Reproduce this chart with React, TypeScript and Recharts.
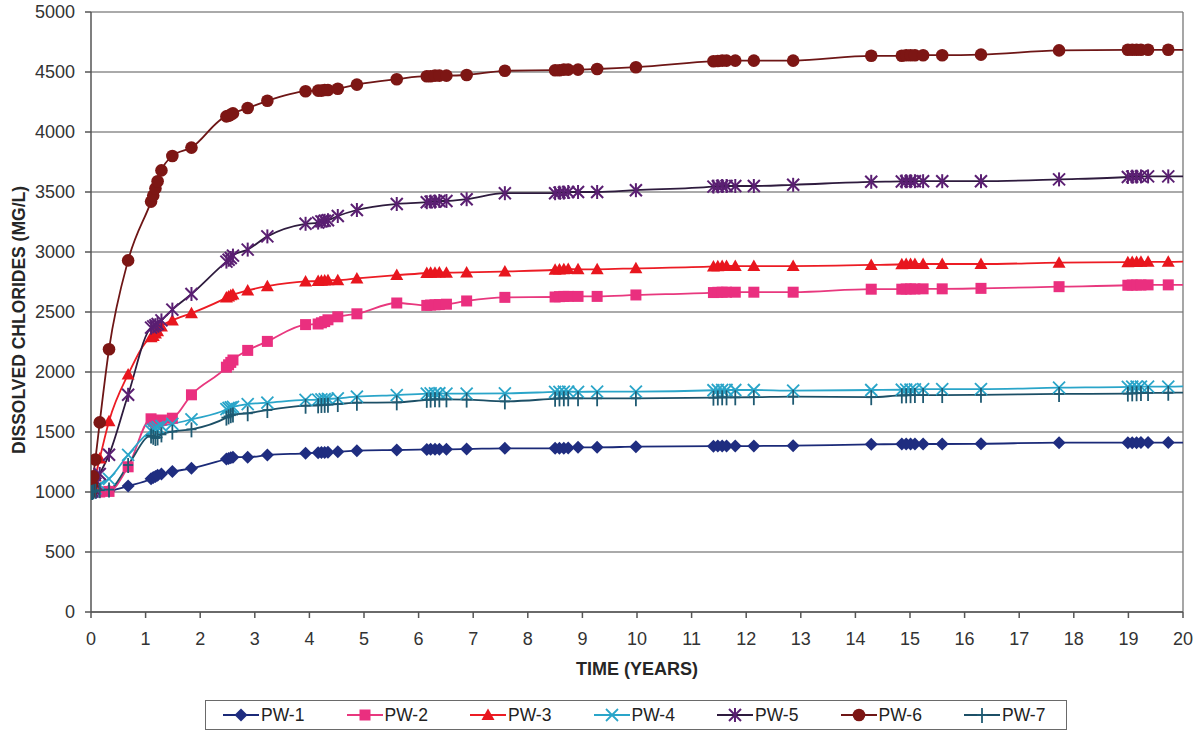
import React from "react";
import { LineChart, Line, XAxis, YAxis, CartesianGrid, ReferenceLine } from "recharts";

// Sampling times (years), grouped by survey rounds
const TIMES = [
  0, 0.02, 0.04, 0.08, 0.16, 0.33, 0.68,
  1.1, 1.14, 1.18, 1.22, 1.29, 1.49, 1.84,
  2.48, 2.52, 2.56, 2.6, 2.87, 3.23, 3.93,
  4.16, 4.22, 4.28, 4.34, 4.52, 4.87, 5.6,
  6.15, 6.22, 6.3, 6.38, 6.51, 6.88, 7.58,
  8.5, 8.58, 8.66, 8.74, 8.92, 9.27, 9.98,
  11.4, 11.48, 11.56, 11.64, 11.8, 12.14, 12.86,
  14.29, 14.85, 14.93, 15.01, 15.09, 15.24, 15.59,
  16.3, 17.73, 18.99, 19.07, 19.15, 19.23, 19.36,
  19.73, 20,
];

const PW1 = [
  1000, 1000, 1000, 1000, 1005, 1010, 1050,
  1110, 1120, 1130, 1140, 1150, 1170, 1197,
  1275, 1280, 1285, 1290, 1290, 1308, 1322,
  1328, 1330, 1330, 1332, 1336, 1344, 1350,
  1355, 1356, 1356, 1357, 1356, 1358, 1364,
  1364, 1365, 1365, 1366, 1372, 1372, 1378,
  1382, 1383, 1383, 1384, 1383, 1383, 1386,
  1397, 1399, 1400, 1400, 1400, 1400, 1400,
  1402, 1411, 1411, 1411, 1411, 1412, 1412,
  1412, 1412,
];

const PW2 = [
  1000, 1000, 1000, 1000, 1000, 1005, 1210,
  1610, 1590, 1575, 1580, 1600, 1615, 1810,
  2040, 2060, 2080, 2100, 2180, 2255, 2395,
  2400, 2410, 2420, 2435, 2460, 2485, 2575,
  2555, 2558, 2560, 2562, 2565, 2592, 2622,
  2625, 2628, 2630, 2630, 2630, 2630, 2642,
  2662, 2664, 2665, 2665, 2665, 2665, 2665,
  2690, 2690, 2692, 2692, 2692, 2693, 2693,
  2697, 2711, 2723, 2725, 2725, 2725, 2726,
  2726, 2726,
];

const PW3 = [
  1000, 1020, 1060, 1130, 1280, 1590, 1980,
  2290, 2300, 2320, 2340, 2380, 2430, 2490,
  2620, 2630, 2640, 2645, 2680, 2715, 2755,
  2758, 2760, 2762, 2765, 2765, 2780, 2808,
  2825, 2828, 2828, 2830, 2828, 2830, 2838,
  2852, 2855, 2856, 2858, 2856, 2856, 2864,
  2880, 2882, 2883, 2884, 2883, 2883, 2883,
  2892, 2898, 2900, 2900, 2901, 2900, 2900,
  2900, 2911, 2915, 2917, 2917, 2918, 2918,
  2918, 2920,
];

const PW4 = [
  1000, 1005, 1010, 1030, 1060, 1110, 1310,
  1510, 1520, 1530, 1540, 1550, 1567, 1606,
  1690, 1700, 1705, 1710, 1733, 1744, 1767,
  1770, 1772, 1773, 1775, 1781, 1794, 1808,
  1820, 1822, 1822, 1823, 1820, 1820, 1822,
  1834, 1835, 1836, 1836, 1835, 1836, 1836,
  1848, 1850, 1850, 1850, 1850, 1850, 1845,
  1850, 1852, 1853, 1854, 1855, 1857, 1858,
  1858, 1869, 1876, 1878, 1878, 1878, 1878,
  1878, 1880,
];

const PW5 = [
  1000, 1010, 1030, 1070, 1150, 1310, 1810,
  2370, 2380, 2390, 2400, 2430, 2520, 2650,
  2920, 2935, 2950, 2970, 3020, 3130, 3235,
  3245, 3255, 3260, 3265, 3300, 3350, 3400,
  3415, 3420, 3420, 3425, 3425, 3440, 3490,
  3490, 3495, 3495, 3500, 3500, 3500, 3515,
  3545, 3548, 3550, 3550, 3550, 3550, 3560,
  3585, 3588, 3590, 3590, 3590, 3590, 3590,
  3590, 3605, 3625, 3628, 3628, 3630, 3630,
  3630, 3630,
];

const PW6 = [
  1000, 1060, 1130, 1270, 1580, 2190, 2930,
  3420, 3470, 3530, 3590, 3680, 3800, 3870,
  4130, 4135, 4145, 4155, 4200, 4260, 4340,
  4345, 4345, 4350, 4350, 4360, 4395, 4440,
  4465, 4465, 4470, 4470, 4470, 4475, 4510,
  4515, 4515, 4520, 4520, 4520, 4525, 4540,
  4590, 4592, 4595, 4595, 4595, 4595, 4595,
  4635, 4635, 4640, 4640, 4640, 4640, 4640,
  4645, 4680, 4685, 4685, 4685, 4685, 4685,
  4685, 4685,
];

const PW7 = [
  1000, 1000, 1005, 1010, 1015, 1020, 1225,
  1470, 1460, 1450, 1455, 1480, 1503, 1522,
  1620, 1630, 1640, 1645, 1656, 1683, 1719,
  1722, 1725, 1726, 1728, 1733, 1744, 1747,
  1768, 1770, 1772, 1772, 1772, 1770, 1755,
  1778, 1780, 1781, 1781, 1781, 1781, 1781,
  1786, 1788, 1789, 1789, 1789, 1790, 1794,
  1790, 1805, 1806, 1807, 1808, 1808, 1808,
  1810, 1817, 1820, 1822, 1823, 1825, 1826,
  1827, 1828,
];

const X_TICKS = [0, 1, 2, 3, 4, 5, 6, 7, 8, 9, 10, 11, 12, 13, 14, 15, 16, 17, 18, 19, 20];
const Y_TICKS = [0, 500, 1000, 1500, 2000, 2500, 3000, 3500, 4000, 4500, 5000];

const SERIES = [
  { key: "pw1", name: "PW-1", values: PW1, line: "#1b2a78", mark: "#1f2d80", shape: "diamond" },
  { key: "pw2", name: "PW-2", values: PW2, line: "#e8387e", mark: "#ea2f7f", shape: "square" },
  { key: "pw3", name: "PW-3", values: PW3, line: "#ec1c24", mark: "#e8161e", shape: "triangle" },
  { key: "pw4", name: "PW-4", values: PW4, line: "#2aa5c9", mark: "#2aa5c9", shape: "x" },
  { key: "pw5", name: "PW-5", values: PW5, line: "#2e1b3e", mark: "#5a1f72", shape: "star" },
  { key: "pw6", name: "PW-6", values: PW6, line: "#6e1616", mark: "#7d1614", shape: "circle" },
  { key: "pw7", name: "PW-7", values: PW7, line: "#1c4f66", mark: "#1f5a72", shape: "plus" },
];

const DATA = TIMES.map((t, i) => {
  const row: Record<string, number> = { t };
  SERIES.forEach((s) => {
    row[s.key] = s.values[i];
  });
  return row;
});

const FONT = "'Liberation Sans', Arial, Helvetica, sans-serif";

function Marker({ shape, cx, cy, color }: { shape: string; cx: number; cy: number; color: string }) {
  switch (shape) {
    case "diamond":
      return <polygon points={`${cx},${cy - 6.5} ${cx + 6.5},${cy} ${cx},${cy + 6.5} ${cx - 6.5},${cy}`} fill={color} />;
    case "square":
      return <rect x={cx - 5.5} y={cy - 5.5} width={11} height={11} fill={color} />;
    case "triangle":
      return <polygon points={`${cx},${cy - 6.5} ${cx + 6.5},${cy + 5} ${cx - 6.5},${cy + 5}`} fill={color} />;
    case "x":
      return (
        <g stroke={color} strokeWidth={1.8}>
          <line x1={cx - 6} y1={cy - 6} x2={cx + 6} y2={cy + 6} />
          <line x1={cx - 6} y1={cy + 6} x2={cx + 6} y2={cy - 6} />
        </g>
      );
    case "star":
      return (
        <g stroke={color} strokeWidth={2}>
          <line x1={cx - 6} y1={cy - 6} x2={cx + 6} y2={cy + 6} />
          <line x1={cx - 6} y1={cy + 6} x2={cx + 6} y2={cy - 6} />
          <line x1={cx} y1={cy - 7} x2={cx} y2={cy + 7} />
        </g>
      );
    case "circle":
      return <circle cx={cx} cy={cy} r={6.3} fill={color} />;
    case "plus":
      return (
        <g stroke={color} strokeWidth={1.8}>
          <line x1={cx - 5} y1={cy} x2={cx + 5} y2={cy} />
          <line x1={cx} y1={cy - 7} x2={cx} y2={cy + 8} />
        </g>
      );
    default:
      return null;
  }
}

const makeDot = (s: (typeof SERIES)[number]) => (props: any) => {
  const { cx, cy, index, payload } = props;
  const k = `${s.key}-dot-${index}`;
  if (cx == null || cy == null || (payload && payload.t >= 20)) return <g key={k} />;
  return (
    <g key={k}>
      <Marker shape={s.shape} cx={cx} cy={cy} color={s.mark} />
    </g>
  );
};

function YLabel(props: any) {
  const vb = props.viewBox || { x: 0, y: 0, width: 0, height: 0 };
  const x = vb.x + 19;
  const y = vb.y + vb.height / 2 + 8;
  return (
    <text
      x={x}
      y={y}
      transform={`rotate(-90, ${x}, ${y})`}
      textAnchor="middle"
      dominantBaseline="central"
      fontFamily={FONT}
      fontWeight="bold"
      fontSize={17.5}
      fill="#262626"
    >
      DISSOLVED CHLORIDES (MG/L)
    </text>
  );
}

function LegendBox() {
  return (
    <div
      style={{
        position: "absolute",
        left: 205,
        top: 700,
        width: 862,
        height: 30,
        border: "1px solid #6a6a6a",
        boxSizing: "border-box",
        background: "#fff",
        fontFamily: FONT,
        fontSize: 17.5,
        color: "#222",
      }}
    >
      {SERIES.map((s, i) => (
        <div
          key={s.key}
          style={{
            position: "absolute",
            left: 16 + i * 123.5,
            top: 4,
            display: "flex",
            alignItems: "center",
            height: 20,
          }}
        >
          <svg width={38} height={18} style={{ display: "block" }}>
            <line x1={1} y1={9} x2={37} y2={9} stroke={s.line} strokeWidth={1.8} />
            <Marker shape={s.shape} cx={19} cy={9} color={s.mark} />
          </svg>
          <span style={{ marginLeft: 1, lineHeight: "20px" }}>{s.name}</span>
        </div>
      ))}
    </div>
  );
}

export default function App() {
  return (
    <div style={{ position: "absolute", left: 0, top: 0, width: 1196, height: 731, background: "#fff" }}>
      <LineChart
        width={1196}
        height={731}
        data={DATA}
        margin={{ top: 12, right: 13, left: 0, bottom: 59 }}
      >
        <CartesianGrid vertical={false} stroke="#8e8e8e" strokeWidth={1.3} />
        <XAxis
          dataKey="t"
          type="number"
          domain={[0, 20]}
          ticks={X_TICKS}
          interval={0}
          height={60}
          tickSize={6}
          tickMargin={14}
          stroke="#555"
          strokeWidth={1.5}
          tick={{ fontFamily: FONT, fontSize: 18, fill: "#333" }}
          allowDataOverflow
          label={{
            value: "TIME (YEARS)",
            position: "insideBottom",
            offset: -3,
            style: { fontFamily: FONT, fontWeight: "bold", fontSize: 18, fill: "#262626" },
          }}
        />
        <YAxis
          type="number"
          domain={[0, 5000]}
          ticks={Y_TICKS}
          interval={0}
          width={91}
          tickSize={6}
          tickMargin={10}
          stroke="#555"
          strokeWidth={1.5}
          tick={{ fontFamily: FONT, fontSize: 18, fill: "#333" }}
          label={<YLabel />}
        />
        <ReferenceLine x={20} stroke="#777" strokeWidth={1.3} />
        {SERIES.map((s) => (
          <Line
            key={s.key}
            dataKey={s.key}
            name={s.name}
            type="monotone"
            stroke={s.line}
            strokeWidth={1.8}
            dot={makeDot(s)}
            activeDot={false}
            isAnimationActive={false}
          />
        ))}
      </LineChart>
      <LegendBox />
    </div>
  );
}
